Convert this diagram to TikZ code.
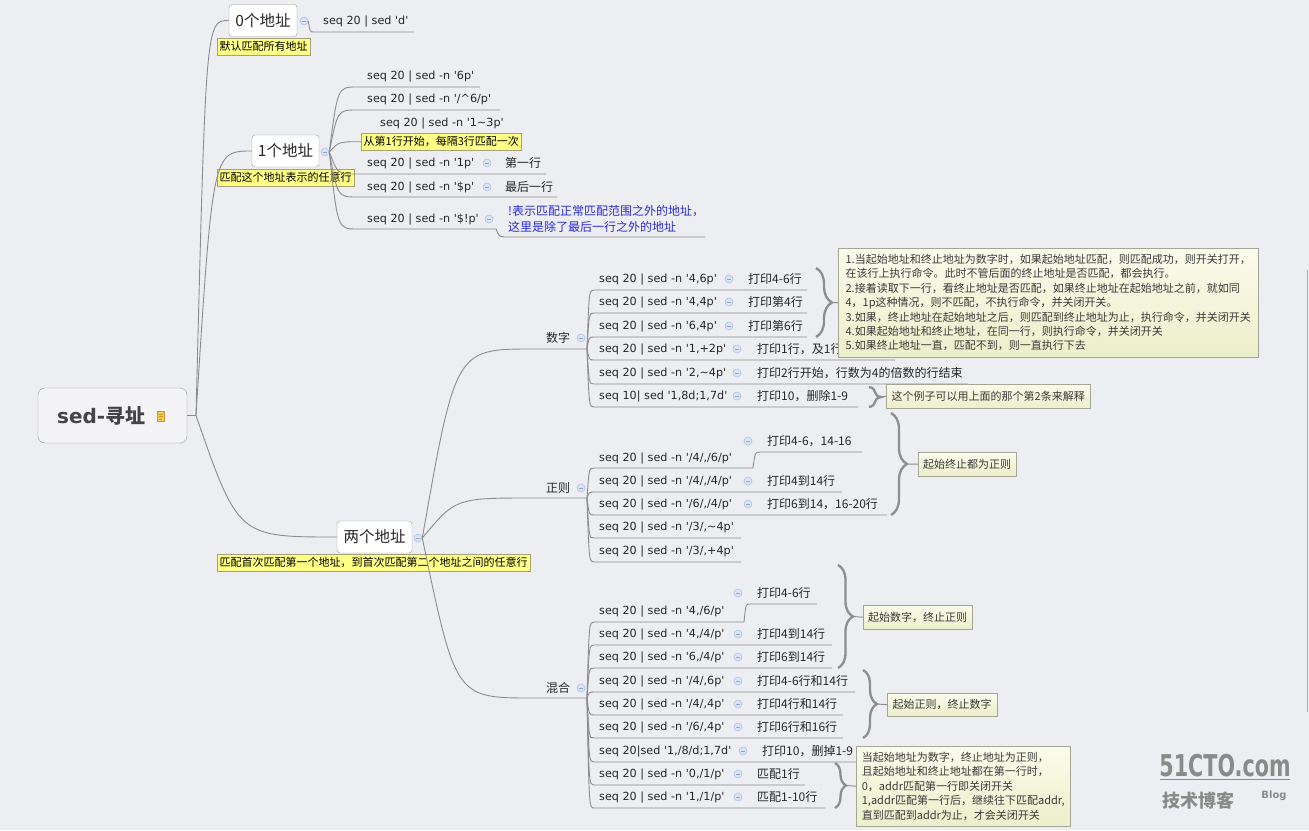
\documentclass[tikz,border=0pt]{standalone}
\usepackage{fontspec}
\setmainfont{Noto Sans CJK SC}
\newfontfamily\cjk{Noto Sans CJK SC}
\font\cmdfont="DejaVu Sans" at 11.2pt
\font\rootlat="DejaVu Sans/B" at 20pt
\font\logofont="DejaVu Sans/B" at 30pt
\font\logosm="DejaVu Sans/B" at 10pt
\usetikzlibrary{calc,decorations.pathreplacing}

\definecolor{bg}{HTML}{EDEEF1}
\definecolor{lnc}{HTML}{8C8C8C}
\definecolor{txt}{HTML}{262626}
\definecolor{boxc}{HTML}{9A9A9A}
\definecolor{rootf}{HTML}{F4F4F6}
\definecolor{rootc}{HTML}{444444}
\definecolor{foldf}{HTML}{D9E4F5}
\definecolor{foldc}{HTML}{AFC3E6}
\definecolor{foldm}{HTML}{8FA7D6}
\definecolor{laby}{HTML}{FFFF86}
\definecolor{labc}{HTML}{A3A37A}
\definecolor{notet}{HTML}{FBFBEC}
\definecolor{noteb}{HTML}{EDEECA}
\definecolor{notec}{HTML}{A6A696}
\definecolor{notetx}{HTML}{3A3A3A}
\definecolor{brcc}{HTML}{8E8E8E}
\definecolor{bluet}{HTML}{2A2ADB}
\definecolor{logoc}{HTML}{8A8A8A}
\definecolor{iconf}{HTML}{F2CA55}
\definecolor{iconc}{HTML}{C99A2A}

\begin{document}
\begin{tikzpicture}[x=1pt,y=-1pt,
  ln/.style={draw=lnc,line width=0.9pt},
  branch/.style={to path={let \p1=(\tikztostart),\p2=(\tikztotarget) in .. controls ({0.7*\x1+0.3*\x2},\y2) .. (\p2)}},
  root/.style={draw=boxc,fill=rootf,rounded corners=7pt,minimum width=149pt,minimum height=55pt,inner sep=0pt},
  icon/.style={draw=iconc,fill=iconf,minimum width=7pt,minimum height=10pt,inner sep=0pt,line width=0.5pt},
  topic/.style={draw=boxc,fill=white,rounded corners=3pt,minimum height=32pt,inner sep=0pt,font=\cjk\fontsize{15.5}{18}\selectfont,text=txt,text height=13.5pt,text depth=2pt},
  tag/.style={draw=labc,fill=laby,anchor=north west,inner xsep=2.5pt,inner ysep=3pt,font=\cjk\fontsize{11}{13}\selectfont,text height=9.5pt,text depth=1.5pt,text=black},
  cmd/.style={anchor=west,inner sep=0pt,font=\cmdfont,text=txt,text height=10pt,text depth=2.5pt},
  leaf/.style={anchor=west,inner sep=0pt,font=\cjk\fontsize{12}{14}\selectfont,text=txt,text height=10.5pt,text depth=1.5pt},
  fold/.style={circle,draw=foldc,fill=foldf,minimum size=8pt,inner sep=0pt,line width=0.6pt,path picture={\draw[foldm,line width=0.9pt] ([xshift=1.8pt]path picture bounding box.west) -- ([xshift=-1.8pt]path picture bounding box.east);}},
  note/.style={draw=notec,top color=notet,bottom color=noteb,anchor=north west,inner sep=0pt,align=left,font=\cjk\fontsize{11}{14.4}\selectfont,text=notetx},
  brc/.style={draw=brcc,line width=2.3pt,decorate,decoration={brace,amplitude=#1}}
]
\fill[bg] (0,0) rectangle (1309,830);
\useasboundingbox (0,0) rectangle (1309,830);

% root
\node[root] (root) at (112.5,415.5) {};
\node[anchor=west,inner sep=0pt,text=rootc] (rootlbl) at (57,416) {\rootlat sed-{\cjk\fontsize{20}{24}\selectfont\bfseries 寻址}};
\node[icon] (icon) at (161,416) {};
\draw[iconc,line width=0.5pt] (159,414) -- (163,414) (159,416.5) -- (163,416.5) (159,419) -- (162,419);
\coordinate (rj) at (196,415.5);
\draw[ln] (root.east) -- (rj);

% first level
\node[topic,minimum width=68pt] (t0) at (263,20.5) {0个地址};
\node[topic,minimum width=67pt] (t1) at (285.5,151) {1个地址};
\node[topic,minimum width=75pt] (t2) at (374.5,537) {两个地址};
\node[tag] (l0) at (217,38) {默认匹配所有地址};
\node[tag] (l1) at (217,169) {匹配这个地址表示的任意行};
\node[tag] (l2) at (217,554) {匹配首次匹配第一个地址，到首次匹配第二个地址之间的任意行};
\node[fold] (f0) at (304,21) {};
\node[fold] (f1) at (325,152) {};
\node[fold] (f2) at (418,538) {};
\draw[ln] (rj) to[branch] (t0.west);
\draw[ln] (rj) to[branch] (t1.west);
\draw[ln] (rj) to[branch] (t2.west);

% 0个地址
\coordinate (a0) at (314,32);
\node[cmd] (a0t) at (323,21) {seq 20 | sed 'd'};
\draw[ln] (f0.east) to[branch] (a0) -- (414,32);

% 1个地址
\coordinate (b1) at (357,87);
\node[cmd] (b1t) at (367,76) {seq 20 | sed -n '6p'};
\draw[ln] (f1.east) to[branch] (b1) -- (480,87);
\coordinate (b2) at (357,110);
\node[cmd] (b2t) at (367,99) {seq 20 | sed -n '/\textasciicircum6/p'};
\draw[ln] (f1.east) to[branch] (b2) -- (500,110);
\node[cmd] (b3t) at (380,123) {seq 20 | sed -n '1\textasciitilde3p'};
\node[tag] (b3l) at (361,133) {从第1行开始，每隔3行匹配一次};
\draw[ln] (f1.east) to[branch] (b3l.west);
\coordinate (b4) at (357,174);
\node[cmd] (b4t) at (367,163) {seq 20 | sed -n '1p'};
\node[fold] (b4f) at (487,163) {};
\node[leaf] (b4l) at (505,163) {第一行};
\draw[ln] (f1.east) to[branch] (b4) -- (546,174);
\coordinate (b5) at (357,197);
\node[cmd] (b5t) at (367,187) {seq 20 | sed -n '\$p'};
\node[fold] (b5f) at (487,187) {};
\node[leaf] (b5l) at (505,187) {最后一行};
\draw[ln] (f1.east) to[branch] (b5) -- (557,197);
\coordinate (b6) at (357,229);
\coordinate (b6e) at (496,229);
\coordinate (b6c) at (507,237);
\node[cmd] (b6t) at (367,219) {seq 20 | sed -n '\$!p'};
\node[fold] (b6f) at (489,219) {};
\node[anchor=west,inner sep=0pt,align=left,text=bluet,font=\cjk\fontsize{12}{16}\selectfont] (b6l) at (508,219) {!表示匹配正常匹配范围之外的地址，\\这里是除了最后一行之外的地址};
\draw[ln] (f1.east) to[branch] (b6) -- (b6e) to[branch] (b6c) -- (705,237);

% 两个地址
\node[leaf] (m1) at (546,338) {数字};
\node[fold] (fm1) at (581,338) {};
\coordinate (m1s) at (533,349);
\coordinate (m1e) at (587,349);
\draw[ln] (f2.east) to[branch] (m1s) -- (m1e);
\node[leaf] (m2) at (546,488) {正则};
\node[fold] (fm2) at (581,488) {};
\coordinate (m2s) at (533,498);
\coordinate (m2e) at (587,498);
\draw[ln] (f2.east) to[branch] (m2s) -- (m2e);
\node[leaf] (m3) at (546,688) {混合};
\node[fold] (fm3) at (581,688) {};
\coordinate (m3s) at (533,698);
\coordinate (m3e) at (587,698);
\draw[ln] (f2.east) to[branch] (m3s) -- (m3e);

% 数字
\coordinate (p1) at (594,290);
\node[cmd] (p1t) at (599,279) {seq 20 | sed -n '4,6p'};
\node[fold] (p1f) at (729,279) {};
\node[leaf] (p1l) at (748,279) {打印4-6行};
\draw[ln] (m1e) to[branch] (p1) -- (807,290);
\coordinate (p2) at (594,313);
\node[cmd] (p2t) at (599,302) {seq 20 | sed -n '4,4p'};
\node[fold] (p2f) at (729,302) {};
\node[leaf] (p2l) at (748,302) {打印第4行};
\draw[ln] (m1e) to[branch] (p2) -- (807,313);
\coordinate (p3) at (594,337);
\node[cmd] (p3t) at (599,326) {seq 20 | sed -n '6,4p'};
\node[fold] (p3f) at (729,326) {};
\node[leaf] (p3l) at (748,326) {打印第6行};
\draw[ln] (m1e) to[branch] (p3) -- (807,337);
\coordinate (p4) at (594,360);
\node[cmd] (p4t) at (599,349) {seq 20 | sed -n '1,+2p'};
\node[fold] (p4f) at (737,349) {};
\node[leaf] (p4l) at (757,349) {打印1行，及1行};
\draw[ln] (m1e) to[branch] (p4) -- (895,360);
\coordinate (p5) at (594,384);
\node[cmd] (p5t) at (599,373) {seq 20 | sed -n '2,\textasciitilde4p'};
\node[fold] (p5f) at (737,373) {};
\node[leaf] (p5l) at (757,373) {打印2行开始，行数为4的倍数的行结束};
\draw[ln] (m1e) to[branch] (p5) -- (968,384);
\coordinate (p6) at (594,407);
\node[cmd] (p6t) at (599,396) {seq 10| sed '1,8d;1,7d'};
\node[fold] (p6f) at (737,396) {};
\node[leaf] (p6l) at (757,396) {打印10，删除1-9};
\draw[ln] (m1e) to[branch] (p6) -- (858,407);

\draw[brc=16] (816,268) -- (816,337);
\coordinate (pb1) at (832,302.5);
\node[note,minimum width=420pt,minimum height=109pt] (n1) at (838,248) {1.当起始地址和终止地址为数字时，如果起始地址匹配，则匹配成功，则开关打开，\\在该行上执行命令。此时不管后面的终止地址是否匹配，都会执行。\\2.接着读取下一行，看终止地址是否匹配，如果终止地址在起始地址之前，就如同\\4，1p这种情况，则不匹配，不执行命令，并关闭开关。\\3.如果，终止地址在起始地址之后，则匹配到终止地址为止，执行命令，并关闭开关\\4.如果起始地址和终止地址，在同一行，则执行命令，并关闭开关\\5.如果终止地址一直，匹配不到，则一直执行下去};
\draw[ln] (pb1) -- (n1.west);
\draw[brc=12] (869,387) -- (869,407);
\coordinate (pb2) at (881,397);
\node[note,minimum width=204pt,minimum height=24pt] (n2) at (886,384) {这个例子可以用上面的那个第2条来解释};
\draw[ln] (pb2) -- (n2.west);

% 正则
\coordinate (q1) at (594,468);
\coordinate (q1e) at (753,468);
\coordinate (q1c) at (760,452);
\node[cmd] (q1t) at (599,458) {seq 20 | sed -n '/4/,/6/p'};
\node[fold] (q1f) at (748,441) {};
\node[leaf] (q1l) at (767,441) {打印4-6，14-16};
\draw[ln] (m2e) to[branch] (q1) -- (q1e) to[branch] (q1c) -- (862,452);
\coordinate (q2) at (594,492);
\node[cmd] (q2t) at (599,481) {seq 20 | sed -n '/4/,/4/p'};
\node[fold] (q2f) at (748,481) {};
\node[leaf] (q2l) at (767,481) {打印4到14行};
\draw[ln] (m2e) to[branch] (q2) -- (842,492);
\coordinate (q3) at (594,515);
\node[cmd] (q3t) at (599,504) {seq 20 | sed -n '/6/,/4/p'};
\node[fold] (q3f) at (748,504) {};
\node[leaf] (q3l) at (767,504) {打印6到14，16-20行};
\draw[ln] (m2e) to[branch] (q3) -- (887,515);
\coordinate (q4) at (594,538);
\node[cmd] (q4t) at (599,527) {seq 20 | sed -n '/3/,\textasciitilde4p'};
\draw[ln] (m2e) to[branch] (q4) -- (741,538);
\coordinate (q5) at (594,562);
\node[cmd] (q5t) at (599,551) {seq 20 | sed -n '/3/,+4p'};
\draw[ln] (m2e) to[branch] (q5) -- (741,562);

\draw[brc=16] (891,413) -- (891,515);
\coordinate (qb) at (907,464);
\node[note,minimum width=98pt,minimum height=24pt] (nq) at (918,452) {起始终止都为正则};
\draw[ln] (qb) -- (nq.west);

% 混合
\coordinate (r1) at (594,622);
\coordinate (r1e) at (744,622);
\coordinate (r1c) at (750,604);
\node[cmd] (r1t) at (599,611) {seq 20 | sed -n '4,/6/p'};
\node[fold] (r1f) at (738,593) {};
\node[leaf] (r1l) at (757,593) {打印4-6行};
\draw[ln] (m3e) to[branch] (r1) -- (r1e) to[branch] (r1c) -- (817,604);
\coordinate (r2) at (594,645);
\node[cmd] (r2t) at (599,634) {seq 20 | sed -n '4,/4/p'};
\node[fold] (r2f) at (738,634) {};
\node[leaf] (r2l) at (757,634) {打印4到14行};
\draw[ln] (m3e) to[branch] (r2) -- (832,645);
\coordinate (r3) at (594,668);
\node[cmd] (r3t) at (599,657) {seq 20 | sed -n '6,/4/p'};
\node[fold] (r3f) at (738,657) {};
\node[leaf] (r3l) at (757,657) {打印6到14行};
\draw[ln] (m3e) to[branch] (r3) -- (832,668);
\coordinate (r4) at (594,692);
\node[cmd] (r4t) at (599,681) {seq 20 | sed -n '/4/,6p'};
\node[fold] (r4f) at (738,681) {};
\node[leaf] (r4l) at (757,681) {打印4-6行和14行};
\draw[ln] (m3e) to[branch] (r4) -- (855,692);
\coordinate (r5) at (594,715);
\node[cmd] (r5t) at (599,704) {seq 20 | sed -n '/4/,4p'};
\node[fold] (r5f) at (738,704) {};
\node[leaf] (r5l) at (757,704) {打印4行和14行};
\draw[ln] (m3e) to[branch] (r5) -- (843,715);
\coordinate (r6) at (594,738);
\node[cmd] (r6t) at (599,727) {seq 20 | sed -n '/6/,4p'};
\node[fold] (r6f) at (738,727) {};
\node[leaf] (r6l) at (757,727) {打印6行和16行};
\draw[ln] (m3e) to[branch] (r6) -- (843,738);
\coordinate (r7) at (594,762);
\node[cmd] (r7t) at (599,751) {seq 20|sed '1,/8/d;1,7d'};
\node[fold] (r7f) at (743,751) {};
\node[leaf] (r7l) at (762,751) {打印10，删掉1-9};
\draw[ln] (m3e) to[branch] (r7) -- (858,762);
\coordinate (r8) at (594,785);
\node[cmd] (r8t) at (599,774) {seq 20 | sed -n '0,/1/p'};
\node[fold] (r8f) at (738,774) {};
\node[leaf] (r8l) at (757,774) {匹配1行};
\draw[ln] (m3e) to[branch] (r8) -- (805,785);
\coordinate (r9) at (594,808);
\node[cmd] (r9t) at (599,797) {seq 20 | sed -n '1,/1/p'};
\node[fold] (r9f) at (738,797) {};
\node[leaf] (r9l) at (757,797) {匹配1-10行};
\draw[ln] (m3e) to[branch] (r9) -- (825,808);

\draw[brc=15] (838,565) -- (838,668);
\coordinate (rb1) at (853,616.5);
\node[note,minimum width=109pt,minimum height=24pt] (na) at (863,605) {起始数字，终止正则};
\draw[ln] (rb1) -- (na.west);
\draw[brc=14] (863,670) -- (863,738);
\coordinate (rb2) at (877,704);
\node[note,minimum width=110pt,minimum height=23pt] (nb) at (887,693) {起始正则，终止数字};
\draw[ln] (rb2) -- (nb.west);
\draw[brc=11] (835,763) -- (835,808);
\coordinate (rb3) at (846,785.5);
\node[note,minimum width=214pt,minimum height=80pt] (nc) at (856,746) {当起始地址为数字，终止地址为正则，\\且起始地址和终止地址都在第一行时，\\0，addr匹配第一行即关闭开关\\1,addr匹配第一行后，继续往下匹配addr,\\直到匹配到addr为止，才会关闭开关};
\draw[ln] (rb3) -- (nc.west);

% logo
\node[inner sep=0pt,text=logoc] (logo) at (1225,766) {\scalebox{0.69}[1]{\logofont 51CTO.com}};
\draw[logoc,line width=1pt] (1160,779) -- (1290,779);
\node[inner sep=0pt,text=logoc,font=\cjk\fontsize{18}{20}\selectfont\bfseries] (logocn) at (1198,801) {技术博客};
\node[inner sep=0pt,text=logoc] (logobl) at (1274,796) {\logosm Blog};
\draw[lnc!70,line width=0.6pt] (1307.5,270) -- (1307.5,712);
\end{tikzpicture}
\end{document}
